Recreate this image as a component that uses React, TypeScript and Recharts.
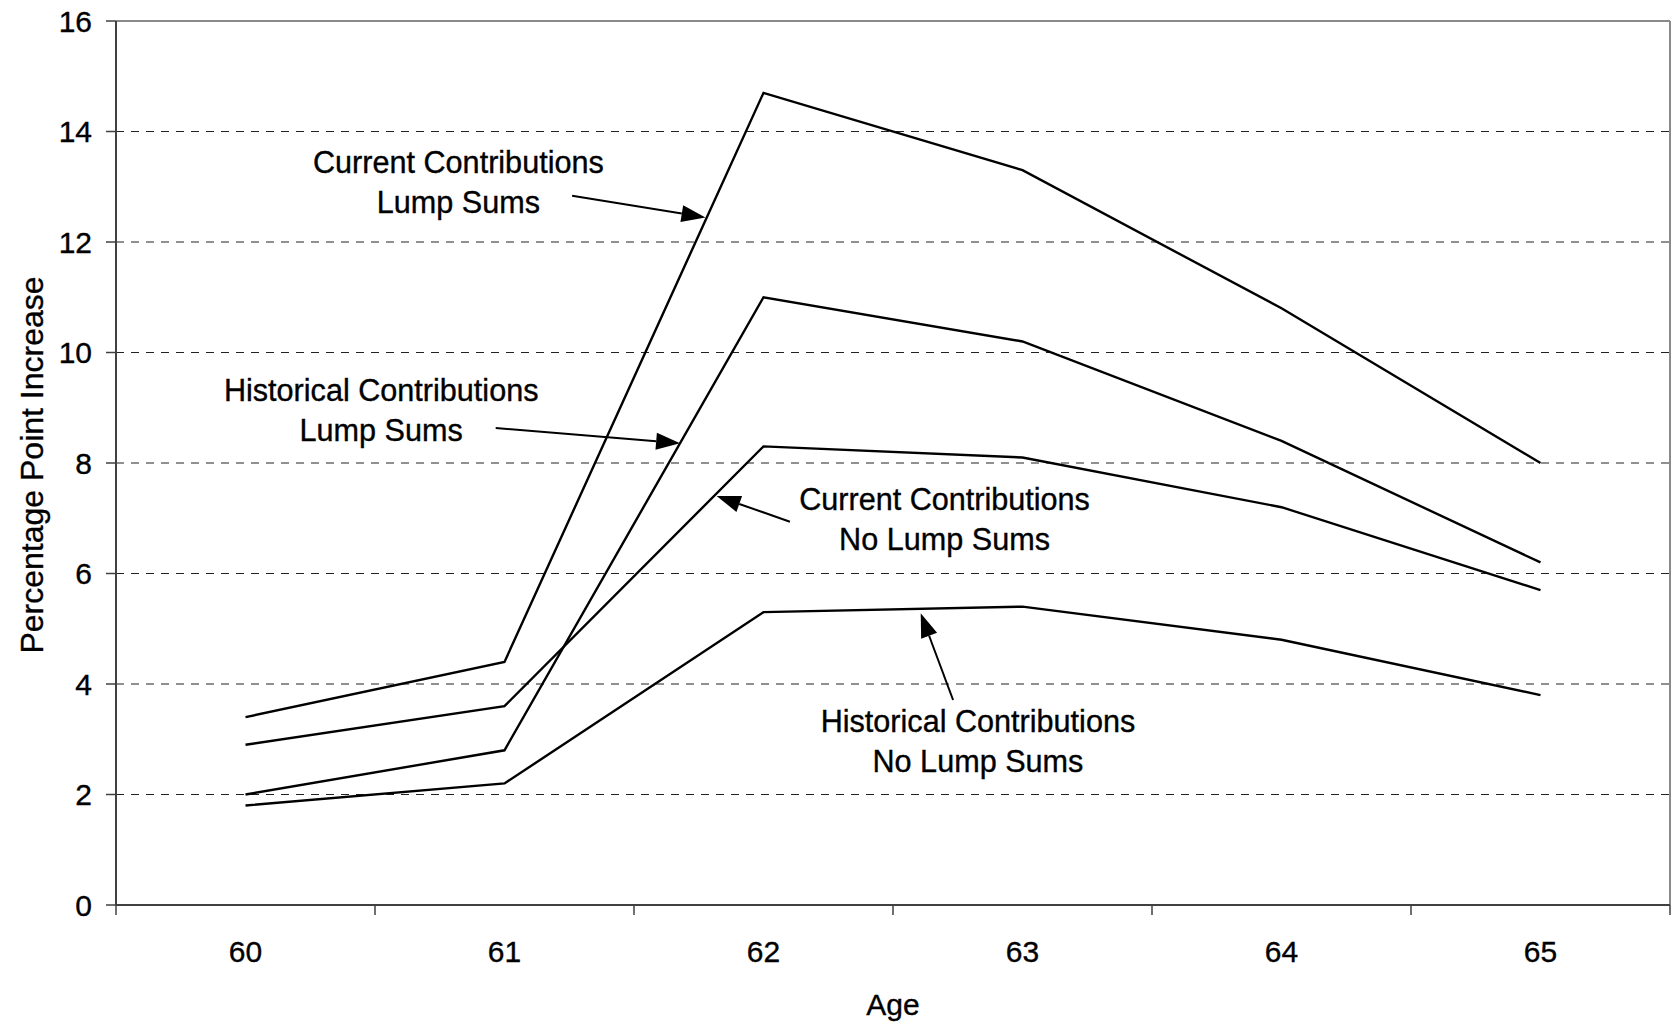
import React from 'react';
import {
  LineChart,
  Line,
  XAxis,
  YAxis,
  CartesianGrid,
  ReferenceLine,
  ReferenceDot,
} from 'recharts';

// ---- data ----
const AGES = [60, 61, 62, 63, 64, 65];
const CURRENT_LUMP = [3.4, 4.4, 14.7, 13.3, 10.8, 8.0];
const HISTORICAL_LUMP = [2.0, 2.8, 11.0, 10.2, 8.4, 6.2];
const CURRENT_NO_LUMP = [2.9, 3.6, 8.3, 8.1, 7.2, 5.7];
const HISTORICAL_NO_LUMP = [1.8, 2.2, 5.3, 5.4, 4.8, 3.8];

const Y_TICKS = [0, 2, 4, 6, 8, 10, 12, 14, 16];
const AGE_BOUNDARIES = [59.5, 60.5, 61.5, 62.5, 63.5, 64.5, 65.5];

// annotation text blocks (data coordinates of text-block centre)
const ANNOTATIONS = [
  { x: 60.822, y: 12.887, lines: ['Current Contributions', 'Lump Sums'] },
  { x: 60.524, y: 8.757, lines: ['Historical Contributions', 'Lump Sums'] },
  { x: 62.699, y: 6.787, lines: ['Current Contributions', 'No Lump Sums'] },
  { x: 62.828, y: 2.766, lines: ['Historical Contributions', 'No Lump Sums'] },
];

// arrows: from (x1,y1) to tip (x2,y2) in data coordinates
const ARROWS = [
  { x1: 61.261, y1: 12.838, x2: 61.776, y2: 12.445 },
  { x1: 60.966, y1: 8.633, x2: 61.678, y2: 8.357 },
  { x1: 62.102, y1: 6.937, x2: 61.819, y2: 7.403 },
  { x1: 62.732, y1: 3.71, x2: 62.607, y2: 5.28 },
];

const data = AGES.map((age, i) => ({
  age,
  currentLump: CURRENT_LUMP[i],
  historicalLump: HISTORICAL_LUMP[i],
  currentNoLump: CURRENT_NO_LUMP[i],
  historicalNoLump: HISTORICAL_NO_LUMP[i],
}));

const FONT = '"Liberation Sans", Arial, Helvetica, sans-serif';
const AXIS_COLOR = '#404040';
const BORDER_COLOR = '#8a8a8a';
const LINE_W = 2.4;

const ArrowShape = (props: any) => {
  const { x1, y1, x2, y2 } = props;
  const dx = x2 - x1;
  const dy = y2 - y1;
  const len = Math.hypot(dx, dy) || 1;
  const ux = dx / len;
  const uy = dy / len;
  const L = 24;
  const W = 8.5;
  const bx = x2 - ux * L;
  const by = y2 - uy * L;
  const p1 = `${bx - uy * W},${by + ux * W}`;
  const p2 = `${bx + uy * W},${by - ux * W}`;
  return (
    <g>
      <line x1={x1} y1={y1} x2={bx} y2={by} stroke="#000" strokeWidth={2} />
      <polygon points={`${x2},${y2} ${p1} ${p2}`} fill="#000" />
    </g>
  );
};

const makeTextShape = (lines: string[]) => (props: any) => {
  const { cx, cy } = props;
  return (
    <text
      textAnchor="middle"
      fontSize={30.6}
      fill="#000"
      stroke="#000"
      strokeWidth={0.35}
      fontFamily={FONT}
    >
      <tspan x={cx} y={cy - 19.75}>
        {lines[0]}
      </tspan>
      <tspan x={cx} y={cy + 19.75}>
        {lines[1]}
      </tspan>
    </text>
  );
};

const YLabel = (props: any) => {
  const { viewBox } = props;
  const cx = viewBox.x + 43;
  const cy = viewBox.y + viewBox.height / 2 + 2;
  return (
    <text
      x={cx}
      y={cy}
      transform={`rotate(-90 ${cx} ${cy})`}
      textAnchor="middle"
      fontSize={32}
      fill="#000"
      stroke="#000"
      strokeWidth={0.35}
      fontFamily={FONT}
    >
      Percentage Point Increase
    </text>
  );
};

const TICK_STYLE = {
  fill: '#000',
  fontSize: 30,
  fontFamily: FONT,
  stroke: '#000',
  strokeWidth: 0.35,
};

export default function App() {
  return (
    <div
      style={{
        position: 'absolute',
        left: 0,
        top: 0,
        width: 1671,
        height: 1026,
        background: '#fff',
        fontFamily: FONT,
      }}
    >
      <LineChart
        width={1671}
        height={1026}
        data={data}
        margin={{ top: 21, right: 1, bottom: 0, left: 0 }}
      >
        <CartesianGrid
          vertical={false}
          stroke="#222"
          strokeWidth={1}
          strokeDasharray="8 7"
        />
        <XAxis
          dataKey="age"
          type="number"
          domain={[59.5, 65.5]}
          ticks={AGES}
          interval={0}
          allowDataOverflow
          height={121}
          tickLine={false}
          tickSize={0}
          tickMargin={36}
          axisLine={{ stroke: AXIS_COLOR, strokeWidth: 2 }}
          tick={TICK_STYLE}
          label={{
            value: 'Age',
            position: 'insideBottom',
            offset: 11,
            fill: '#000',
            stroke: '#000',
            strokeWidth: 0.35,
            fontSize: 30,
            fontFamily: FONT,
          }}
        />
        <YAxis
          type="number"
          domain={[0, 16]}
          ticks={Y_TICKS}
          interval={0}
          width={116}
          tickSize={10}
          tickMargin={14}
          axisLine={{ stroke: AXIS_COLOR, strokeWidth: 2 }}
          tickLine={{ stroke: AXIS_COLOR, strokeWidth: 1.5 }}
          tick={TICK_STYLE}
          label={{ content: YLabel }}
        />
        {/* plot frame: top and right borders */}
        <ReferenceLine y={16} stroke={BORDER_COLOR} strokeWidth={2} />
        <ReferenceLine x={65.5} stroke={BORDER_COLOR} strokeWidth={2} />
        {/* category boundary tick marks on the x axis */}
        {AGE_BOUNDARIES.map((b) => (
          <ReferenceLine
            key={`tick-${b}`}
            segment={[
              { x: b, y: 0 },
              { x: b, y: -0.181 },
            ]}
            stroke={AXIS_COLOR}
            strokeWidth={1.5}
            ifOverflow="visible"
          />
        ))}
        <Line
          type="linear"
          dataKey="currentLump"
          stroke="#000"
          strokeWidth={LINE_W}
          dot={false}
          isAnimationActive={false}
        />
        <Line
          type="linear"
          dataKey="historicalLump"
          stroke="#000"
          strokeWidth={LINE_W}
          dot={false}
          isAnimationActive={false}
        />
        <Line
          type="linear"
          dataKey="currentNoLump"
          stroke="#000"
          strokeWidth={LINE_W}
          dot={false}
          isAnimationActive={false}
        />
        <Line
          type="linear"
          dataKey="historicalNoLump"
          stroke="#000"
          strokeWidth={LINE_W}
          dot={false}
          isAnimationActive={false}
        />
        {ARROWS.map((a, i) => (
          <ReferenceLine
            key={`arrow-${i}`}
            segment={[
              { x: a.x1, y: a.y1 },
              { x: a.x2, y: a.y2 },
            ]}
            ifOverflow="visible"
            shape={ArrowShape}
          />
        ))}
        {ANNOTATIONS.map((a, i) => (
          <ReferenceDot
            key={`ann-${i}`}
            x={a.x}
            y={a.y}
            r={0}
            ifOverflow="visible"
            shape={makeTextShape(a.lines)}
          />
        ))}
      </LineChart>
    </div>
  );
}
